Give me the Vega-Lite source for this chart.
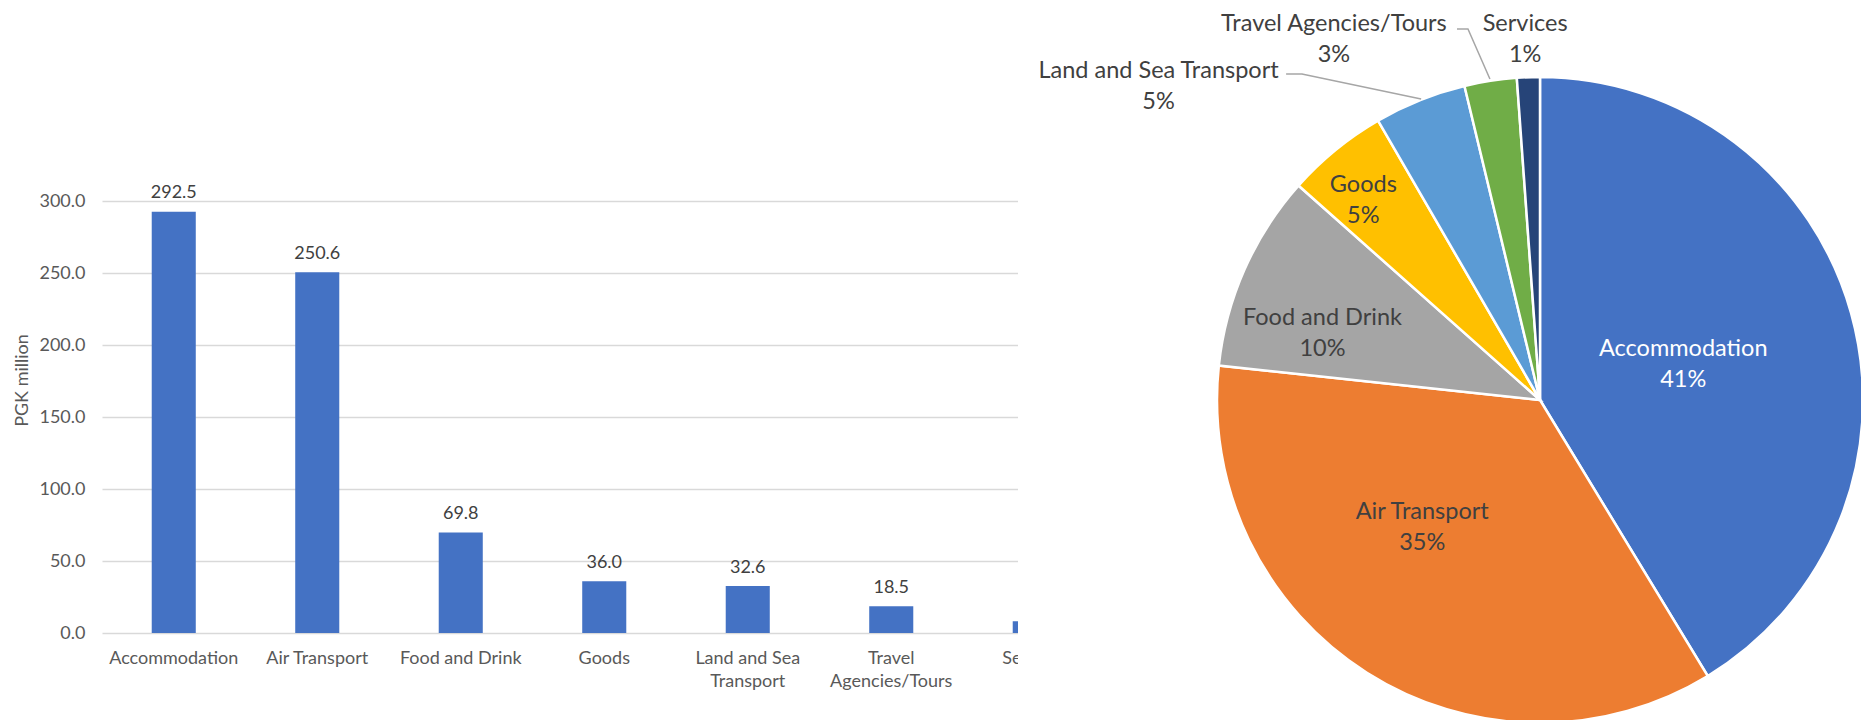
{
  "$schema": "https://vega.github.io/schema/vega-lite/v6.json",
  "background": "white",
  "padding": {"left": 13, "top": 11, "right": 0, "bottom": 0},
  "config": {"font": "Lato", "view": {"stroke": null}},
  "bounds": "flush",
  "spacing": 0,
  "datasets": {
    "spend": [
      {"cat": "Accommodation", "value": 292.5},
      {"cat": "Air Transport", "value": 250.6},
      {"cat": "Food and Drink", "value": 69.8},
      {"cat": "Goods", "value": 36.0},
      {"cat": "Land and Sea Transport", "value": 32.6},
      {"cat": "Travel Agencies/Tours", "value": 18.5},
      {"cat": "Services", "value": 8.1}
    ],
    "leaders": [
      {"cat": "Land and Sea Transport", "seq": 1, "px": -0.786, "py": 1.009},
      {"cat": "Land and Sea Transport", "seq": 2, "px": -0.737, "py": 1.009},
      {"cat": "Land and Sea Transport", "seq": 3, "px": -0.368, "py": 0.932},
      {"cat": "Travel Agencies/Tours", "seq": 1, "px": -0.257, "py": 1.149},
      {"cat": "Travel Agencies/Tours", "seq": 2, "px": -0.223, "py": 1.149},
      {"cat": "Travel Agencies/Tours", "seq": 3, "px": -0.155, "py": 0.994}
    ]
  },
  "hconcat": [
    {
      "width": 916,
      "height": 540,
      "data": {"name": "spend"},
      "encoding": {
        "x": {
          "field": "cat", "type": "nominal", "sort": null,
          "scale": {"range": [0, 1004.5], "paddingInner": 0.693, "paddingOuter": 0.3465},
          "axis": {
            "title": null, "labelAngle": 0, "domain": false, "ticks": false, "grid": false,
            "labelPadding": 16, "labelFontSize": 18, "labelColor": "#595959", "labelLineHeight": 23,
            "labelOverlap": false, "labelLimit": 300,
            "labelExpr": "datum.label == 'Land and Sea Transport' ? ['Land and Sea', 'Transport'] : datum.label == 'Travel Agencies/Tours' ? ['Travel', 'Agencies/Tours'] : datum.label"
          }
        },
        "y": {
          "field": "value", "type": "quantitative",
          "scale": {"domain": [0, 375]},
          "axis": {
            "title": "PGK million", "values": [0, 50, 100, 150, 200, 250, 300], "format": ".1f",
            "domain": false, "ticks": false, "grid": true, "gridColor": "#D9D9D9", "gridWidth": 1.5,
            "labelPadding": 17, "labelFontSize": 18, "labelColor": "#595959",
            "titleFontSize": 18, "titleFontWeight": "normal", "titleColor": "#595959",
            "titleX": -80, "titleY": 287, "titleAngle": 270, "titleAlign": "center", "titleBaseline": "middle"
          }
        }
      },
      "layer": [
        {"mark": {"type": "bar", "color": "#4472C4", "clip": true}},
        {
          "mark": {"type": "text", "dy": -13.5, "baseline": "alphabetic", "fontSize": 18, "color": "#404040"},
          "encoding": {"text": {"field": "value", "type": "quantitative", "format": ".1f"}}
        }
      ]
    },
    {
      "width": 1044,
      "height": 614,
      "view": {"fill": "white", "stroke": null},
      "layer": [
        {
          "data": {"name": "spend"},
          "mark": {"type": "arc", "radius": 323, "stroke": "white", "strokeWidth": 2.5},
          "encoding": {
            "theta": {"field": "value", "type": "quantitative", "stack": true},
            "order": {"field": "value", "sort": "descending"},
            "color": {
              "field": "cat", "type": "nominal", "sort": null, "legend": null,
              "scale": {
                "domain": ["Accommodation", "Air Transport", "Food and Drink", "Goods", "Land and Sea Transport", "Travel Agencies/Tours", "Services"],
                "range": ["#4472C4", "#ED7D31", "#A5A5A5", "#FFC000", "#5B9BD5", "#70AD47", "#264478"]
              }
            }
          }
        },
        {
          "data": {"name": "spend"},
          "transform": [
            {"joinaggregate": [{"op": "sum", "field": "value", "as": "total"}]},
            {"calculate": "datum.cat + '\\n' + format(datum.value / datum.total, '.0%')", "as": "label"}
          ],
          "mark": {
            "type": "text", "fontSize": 23.5, "lineBreak": "\n", "lineHeight": 31,
            "align": "center", "baseline": "middle", "dy": -13.5,
            "radius": {"expr": "datum.cat === 'Accommodation' ? 148 : datum.cat === 'Air Transport' ? 172 : datum.cat === 'Food and Drink' ? 228 : datum.cat === 'Goods' ? 268 : datum.cat === 'Land and Sea Transport' ? 495 : datum.cat === 'Travel Agencies/Tours' ? 417 : 363"},
            "thetaOffset": {"expr": "datum.cat === 'Accommodation' ? 0.019 : datum.cat === 'Air Transport' ? 0.1885 : datum.cat === 'Food and Drink' ? -0.1117 : datum.cat === 'Goods' ? -0.0349 : datum.cat === 'Land and Sea Transport' ? -0.499 : datum.cat === 'Travel Agencies/Tours' ? -0.363 : -0.005"}
          },
          "encoding": {
            "theta": {"field": "value", "type": "quantitative", "stack": true},
            "order": {"field": "value", "sort": "descending"},
            "detail": {"field": "cat", "type": "nominal"},
            "text": {"field": "label", "type": "nominal"},
            "color": {"condition": {"test": "datum.cat === 'Accommodation'", "value": "white"}, "value": "#404040"}
          }
        },
        {
          "data": {"name": "leaders"},
          "mark": {"type": "line", "color": "#A6A6A6", "strokeWidth": 1.5},
          "encoding": {
            "x": {"field": "px", "type": "quantitative", "scale": {"domain": [-1.616, 1.616]}, "axis": null},
            "y": {"field": "py", "type": "quantitative", "scale": {"domain": [-0.9505, 0.9505]}, "axis": null},
            "detail": {"field": "cat", "type": "nominal"},
            "order": {"field": "seq", "type": "quantitative"}
          }
        }
      ]
    }
  ]
}
